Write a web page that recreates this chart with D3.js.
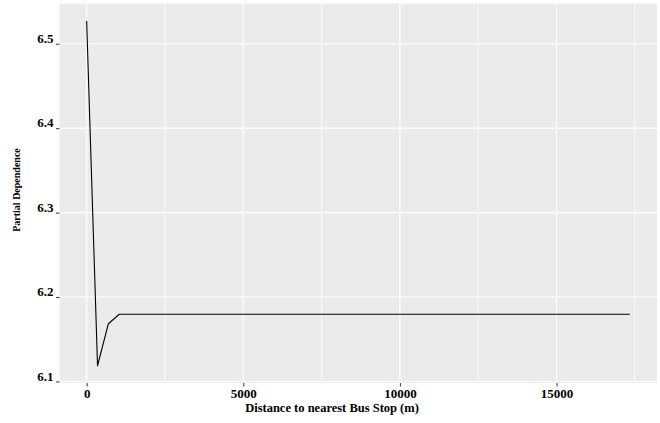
<!DOCTYPE html>
<html>
<head>
<meta charset="utf-8">
<script src="https://cdn.jsdelivr.net/npm/d3@7"></script>
<style>
  html, body { margin: 0; padding: 0; background: #fff; }
  svg { display: block; }
</style>
</head>
<body>
<svg id="chart" width="660" height="423"></svg>
<script>
// Partial dependence of the model on distance to nearest bus stop
const distance = [0, 347, 694, 1040, 17340];
const dependence = [6.527, 6.1186, 6.1684, 6.1796, 6.1796];
const xTicks = [0, 5000, 10000, 15000];
const xMinor = [2500, 7500, 12500, 17500];
const yTicks = [6.1, 6.2, 6.3, 6.4, 6.5];
const xTitle = "Distance to nearest Bus Stop (m)";
const yTitle = "Partial Dependence";

const FONT = "'Liberation Serif', Tinos, 'Times New Roman', Times, serif";

const panel = { left: 59.5, right: 657, top: 3.7, bottom: 383 };

const svg = d3.select("#chart");

// ggplot-style 5% expansion around the data range
const xExt = d3.extent(distance), yExt = d3.extent(dependence);
const xPad = (xExt[1] - xExt[0]) * 0.05, yPad = (yExt[1] - yExt[0]) * 0.05;
const x = d3.scaleLinear().domain([xExt[0] - xPad, xExt[1] + xPad]).range([panel.left, panel.right]);
const y = d3.scaleLinear().domain([yExt[0] - yPad, yExt[1] + yPad]).range([panel.bottom, panel.top]);

// panel background
svg.append("rect")
  .attr("x", panel.left).attr("y", panel.top)
  .attr("width", panel.right - panel.left).attr("height", panel.bottom - panel.top)
  .attr("fill", "#EBEBEB");

const grid = svg.append("g");
grid.selectAll("line.xminor").data(xMinor).join("line")
  .attr("x1", d => x(d)).attr("x2", d => x(d))
  .attr("y1", panel.top).attr("y2", panel.bottom)
  .attr("stroke", "#fff").attr("stroke-width", 0.8);
grid.selectAll("line.xmajor").data(xTicks).join("line")
  .attr("x1", d => x(d)).attr("x2", d => x(d))
  .attr("y1", panel.top).attr("y2", panel.bottom)
  .attr("stroke", "#fff").attr("stroke-width", 1.1);
grid.selectAll("line.ymajor").data(yTicks).join("line")
  .attr("x1", panel.left).attr("x2", panel.right)
  .attr("y1", d => y(d)).attr("y2", d => y(d))
  .attr("stroke", "#fff").attr("stroke-width", 1.1);

// dependence curve
const line = d3.line().x((d, i) => x(distance[i])).y(d => y(d));
svg.append("path")
  .datum(dependence)
  .attr("d", line)
  .attr("fill", "none")
  .attr("stroke", "#000")
  .attr("stroke-width", 1.1)
  .attr("stroke-linejoin", "round");

// x axis
const xAxis = d3.axisBottom(x).tickValues(xTicks).tickSize(3.5).tickPadding(2).tickFormat(d3.format("d"));
const gx = svg.append("g").attr("transform", `translate(0,${panel.bottom})`).call(xAxis)
  .attr("font-family", FONT).attr("font-size", 13).attr("font-weight", "bold");
gx.select(".domain").remove();
gx.selectAll(".tick line").attr("stroke", "#333");
gx.selectAll(".tick text").attr("fill", "#000");

// y axis
const yAxis = d3.axisLeft(y).tickValues(yTicks).tickSize(3.5).tickPadding(2.5).tickFormat(d3.format(".1f"));
const gy = svg.append("g").attr("transform", `translate(${panel.left},0)`).call(yAxis)
  .attr("font-family", FONT).attr("font-size", 13).attr("font-weight", "bold");
gy.select(".domain").remove();
gy.selectAll(".tick line").attr("stroke", "#333");
gy.selectAll(".tick text").attr("dy", "-0.1em").attr("fill", "#000");

// axis titles
svg.append("text")
  .attr("x", 332).attr("y", 412)
  .attr("text-anchor", "middle")
  .attr("font-family", FONT).attr("font-weight", "bold").attr("font-size", 12.5)
  .text(xTitle);

svg.append("text")
  .attr("transform", `translate(20,190) rotate(-90)`)
  .attr("text-anchor", "middle")
  .attr("font-family", FONT).attr("font-weight", "bold").attr("font-size", 10)
  .text(yTitle);
</script>
</body>
</html>
